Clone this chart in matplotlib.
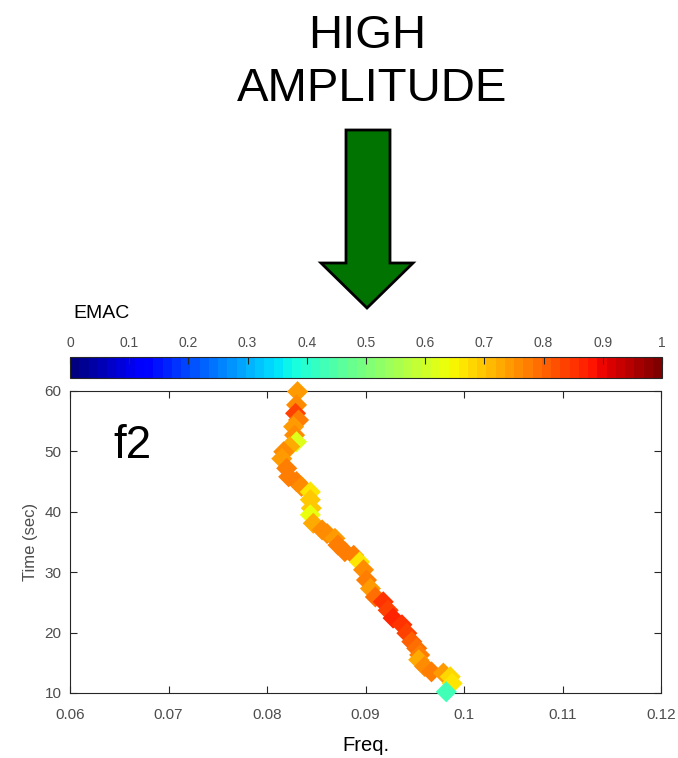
import numpy as np
import matplotlib
matplotlib.use("Agg")
import matplotlib.pyplot as plt
from matplotlib.patches import Polygon

plt.rcParams['font.family'] = ['Liberation Sans', 'DejaVu Sans']

# ---- data ----
freq = [0.0831, 0.0830, 0.0829, 0.0832, 0.0827, 0.0828, 0.0830, 0.0823, 0.0817,
        0.0815, 0.0820, 0.0822, 0.0830, 0.0835, 0.0844, 0.0844, 0.0845, 0.0844,
        0.0847, 0.0856, 0.0861, 0.0869, 0.0872, 0.0879, 0.0888, 0.0894, 0.0898,
        0.0901, 0.0905, 0.0910, 0.0918, 0.0923, 0.0928, 0.0937, 0.0942, 0.0947,
        0.0952, 0.0955, 0.0954, 0.0960, 0.0967, 0.0979, 0.0986, 0.0988, 0.0982]
time_s = [59.9, 57.7, 56.3, 55.2, 54.1, 52.7, 51.6, 50.8, 49.95,
          48.8, 47.2, 45.8, 45.0, 44.2, 43.3, 42.0, 40.6, 39.5,
          38.1, 37.0, 36.4, 35.6, 34.5, 33.4, 32.8, 31.7, 30.4,
          28.7, 27.3, 25.9, 25.1, 23.7, 22.4, 21.3, 19.9, 18.5,
          17.4, 16.3, 15.5, 14.4, 13.5, 13.3, 12.7, 11.6, 10.2]
emac = [0.74, 0.76, 0.84, 0.77, 0.74, 0.76, 0.62, 0.72, 0.75,
        0.74, 0.77, 0.78, 0.77, 0.75, 0.67, 0.70, 0.69, 0.64,
        0.72, 0.76, 0.76, 0.74, 0.77, 0.78, 0.77, 0.66, 0.76,
        0.77, 0.74, 0.79, 0.85, 0.83, 0.86, 0.85, 0.83, 0.81,
        0.79, 0.77, 0.72, 0.75, 0.77, 0.74, 0.68, 0.66, 0.43]

xticks = [0.06, 0.07, 0.08, 0.09, 0.1, 0.11, 0.12]
xticklabels = ['0.06', '0.07', '0.08', '0.09', '0.1', '0.11', '0.12']
yticks = [10, 20, 30, 40, 50, 60]
cbticks = [0, 0.1, 0.2, 0.3, 0.4, 0.5, 0.6, 0.7, 0.8, 0.9, 1]
cbticklabels = ['0', '0.1', '0.2', '0.3', '0.4', '0.5', '0.6', '0.7', '0.8', '0.9', '1']

W, H = 678, 758
fig = plt.figure(figsize=(W / 100, H / 100), dpi=100)

def fr(x0, y0, x1, y1):
    return [x0 / W, 1 - y1 / H, (x1 - x0) / W, (y1 - y0) / H]

axcol = '#262626'
labcol = '#4d4d4d'
cmap = plt.get_cmap('jet', 64)

ax = fig.add_axes(fr(70, 391, 661, 693))
sc = ax.scatter(freq, time_s, c=emac, cmap=cmap, vmin=0, vmax=1, marker='D',
                s=115, linewidths=0, clip_on=False, zorder=3)
ax.set_xlim(0.06, 0.12)
ax.set_ylim(10, 60)
ax.set_xticks(xticks)
ax.set_xticklabels(xticklabels)
ax.set_yticks(yticks)
ax.tick_params(direction='in', length=5, width=0.8, color=axcol, labelcolor=labcol,
               labelsize=11, top=True, right=True)
ax.tick_params(axis='x', pad=11)
ax.tick_params(axis='y', pad=6)
for sp in ax.spines.values():
    sp.set_color(axcol)
    sp.set_linewidth(0.8)
ax.set_xlabel('Freq.', fontsize=14.5, color='black', labelpad=10)
ax.set_ylabel('Time (sec)', fontsize=12, color=labcol, labelpad=5)
ax.text(0.0663, 48.9, 'f2', fontsize=33, color='black', ha='center', va='baseline')

cax = fig.add_axes(fr(70, 357, 662, 378))
cb = fig.colorbar(sc, cax=cax, orientation='horizontal', ticks=cbticks)
cb.ax.set_xticklabels(cbticklabels)
cb.ax.xaxis.set_ticks_position('top')
cb.ax.xaxis.set_label_position('top')
cb.ax.tick_params(direction='in', length=5, width=0.8, color=axcol, labelcolor=labcol,
                  labelsize=10, pad=5)
cb.outline.set_edgecolor(axcol)
cb.outline.set_linewidth(0.8)

# overlay in pixel coords for arrow and texts
ov = fig.add_axes([0, 0, 1, 1], zorder=-1)
ov.set_xlim(0, W)
ov.set_ylim(H, 0)
ov.axis('off')
arrow = [(346, 130), (390, 130), (390, 263), (413, 263), (367, 308),
         (321, 263), (346, 263)]
ov.add_patch(Polygon(arrow, closed=True, facecolor='#007300', edgecolor='black',
                     linewidth=2))
ov.text(367, 36, 'HIGH', fontsize=34, ha='center', va='center', color='black')
ov.text(372, 89, 'AMPLITUDE', fontsize=34, ha='center', va='center', color='black')
ov.text(73, 314, 'EMAC', fontsize=14, ha='left', va='center', color='black')

fig.savefig('out.png', dpi=100)
